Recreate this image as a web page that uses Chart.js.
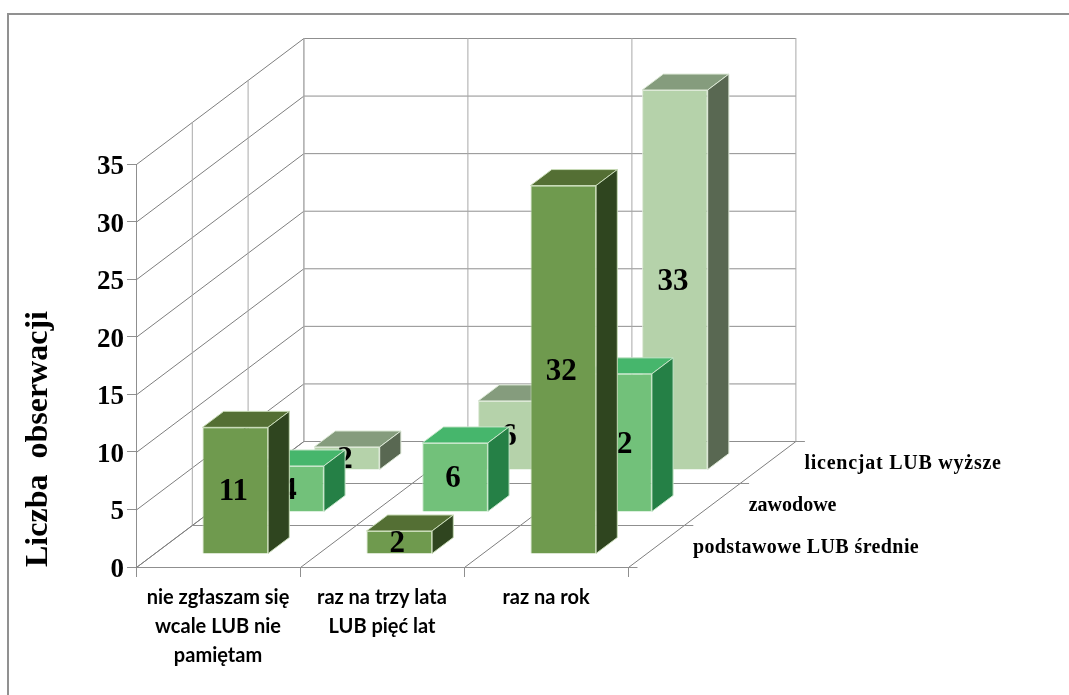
<!DOCTYPE html>
<html lang="pl">
<head>
<meta charset="utf-8">
<title>Liczba obserwacji</title>
<script src="https://cdn.jsdelivr.net/npm/chart.js@4"></script>
<style>
  html, body { margin: 0; padding: 0; background: #fff; overflow: hidden; }
  canvas { display: block; }
</style>
</head>
<body>
<canvas id="chart" width="1069" height="695"></canvas>
<script>
// Chart values
const categories = [
  ['nie zgłaszam się', 'wcale LUB nie', 'pamiętam'],
  ['raz na trzy lata', 'LUB pięć lat'],
  'raz na rok'
];
const seriesNames = ['podstawowe LUB średnie', 'zawodowe', 'licencjat LUB wyższe'];
const podstawowe = [11, 2, 32];
const zawodowe = [4, 6, 12];
const licencjat = [2, 6, 33];

// Face colours per series: front, top, side, edge
const frontColors = ['#6f9a4e', '#72c17a', '#b5d2aa'];
const topColors = ['#546f34', '#46b66c', '#859c7d'];
const sideColors = ['#2f451f', '#258046', '#596852'];
const edgeColors = ['#c9dcb8', '#c7e6ca', '#dde9d7'];
const nameSpacing = ['0.4px', '0px', '0.75px'];

// Oblique projection: one depth slot moves a point right and up by these amounts
const SLOT_DX = 55.8;
const SLOT_DY = 42;
const SLOTS = seriesNames.length;
const BAR_INSET = 0.31;   // distance from slot start to bar front, in slots
const BAR_DEPTH = 0.38;   // bar thickness, in slots
const GRID = '#8f8f8f';
const GRID_SLANT = '#7e7e7e';
const GRID_SOFT = '#a9a9a9';

function line(ctx, x1, y1, x2, y2, color) {
  ctx.strokeStyle = color;
  ctx.lineWidth = 1;
  ctx.beginPath();
  ctx.moveTo(x1, y1);
  ctx.lineTo(x2, y2);
  ctx.stroke();
}

function polygon(ctx, pts, fill, edge) {
  ctx.beginPath();
  pts.forEach((p, i) => (i ? ctx.lineTo(p[0], p[1]) : ctx.moveTo(p[0], p[1])));
  ctx.closePath();
  ctx.fillStyle = fill;
  ctx.fill();
  ctx.strokeStyle = edge;
  ctx.lineWidth = 1;
  ctx.stroke();
}

const box3d = {
  id: 'box3d',
  beforeDraw(chart) {
    // Outer frame, open towards the page edge
    const ctx = chart.ctx;
    ctx.save();
    ctx.strokeStyle = '#919191';
    ctx.lineWidth = 2;
    ctx.beginPath();
    ctx.moveTo(8, chart.height);
    ctx.lineTo(8, 14);
    ctx.lineTo(chart.width, 14);
    ctx.stroke();
    ctx.restore();
  },
  beforeDatasetsDraw(chart) {
    // Walls and floor
    const { ctx, scales: { x, y } } = chart;
    const base = y.getPixelForValue(0);
    const top = y.getPixelForValue(y.max);
    const left = x.left + 0.5;
    const right = x.right + 0.5;
    const backDx = SLOT_DX * SLOTS;
    const backDy = SLOT_DY * SLOTS;
    ctx.save();

    // Horizontal value lines on the left and back walls
    y.ticks.forEach(t => {
      const py = y.getPixelForValue(t.value) + 0.5;
      line(ctx, left, py, left + backDx, py - backDy, GRID_SLANT);
      line(ctx, left + backDx, py - backDy, right + backDx, py - backDy, GRID);
    });

    // Verticals on the left wall, one per depth slot
    for (let i = 1; i <= SLOTS; i++) {
      const dx = SLOT_DX * i, dy = SLOT_DY * i;
      line(ctx, left + dx, base - dy + 0.5, left + dx, top - dy, GRID_SOFT);
    }

    // Category lines across the floor and up the back wall
    for (let c = 0; c <= categories.length; c++) {
      const cx = left + (right - left) * c / categories.length;
      line(ctx, cx, base + 0.5, cx + backDx, base - backDy + 0.5, GRID_SLANT);
      line(ctx, cx + backDx, base - backDy + 0.5, cx + backDx, top - backDy, GRID_SOFT);
    }

    // Depth lines across the floor with their outer ticks
    for (let i = 0; i <= SLOTS; i++) {
      const dx = SLOT_DX * i, dy = SLOT_DY * i;
      const py = base - dy + 0.5;
      line(ctx, left + dx, py, right + dx + 9, py, GRID);
    }

    // Value axis numbers, set a little below the middle of their ticks
    ctx.fillStyle = '#000';
    ctx.font = 'bold 27px "Liberation Serif"';
    ctx.textAlign = 'right';
    ctx.textBaseline = 'middle';
    y.ticks.forEach(t => {
      ctx.fillText(t.label, 124, y.getPixelForValue(t.value) + 3);
    });

    // Series names beside the floor edge
    ctx.font = 'bold 20px "Liberation Serif"';
    ctx.textAlign = 'left';
    seriesNames.forEach((name, i) => {
      const mid = i + 0.5;
      ctx.letterSpacing = nameSpacing[i];
      ctx.fillText(name, right + SLOT_DX * mid + 36.5, base - SLOT_DY * mid + 2);
    });
    ctx.letterSpacing = '0px';
    ctx.restore();
  },
  beforeDatasetDraw(chart, args) {
    // Shift the series into its depth slot and add the top and side faces
    const { ctx } = chart;
    const i = args.index;
    const offset = i + BAR_INSET;
    const bx = SLOT_DX * BAR_DEPTH, by = SLOT_DY * BAR_DEPTH;
    ctx.save();
    ctx.translate(SLOT_DX * offset, -SLOT_DY * offset);
    args.meta.data.forEach(bar => {
      const { x, y, base, width } = bar.getProps(['x', 'y', 'base', 'width'], true);
      const l = x - width / 2, r = x + width / 2;
      polygon(ctx, [[l, y], [r, y], [r + bx, y - by], [l + bx, y - by]], topColors[i], edgeColors[i]);
      polygon(ctx, [[r, y], [r + bx, y - by], [r + bx, base - by], [r, base]], sideColors[i], edgeColors[i]);
    });
  },
  afterDatasetDraw(chart, args) {
    // Value labels sit on the front face and are overlapped by nearer series
    const { ctx } = chart;
    const values = chart.data.datasets[args.index].data;
    ctx.fillStyle = '#000';
    ctx.font = 'bold 31px "Liberation Serif"';
    ctx.textAlign = 'center';
    ctx.textBaseline = 'middle';
    args.meta.data.forEach((bar, k) => {
      const { x, y, base } = bar.getProps(['x', 'y', 'base'], true);
      ctx.fillText(String(values[k]), x - 2, (y + base) / 2 + 2);
    });
    ctx.restore();
  }
};

const seriesValues = [podstawowe, zawodowe, licencjat];

new Chart(document.getElementById('chart'), {
  type: 'bar',
  data: {
    labels: categories,
    datasets: seriesNames.map((name, i) => ({
      label: name,
      data: seriesValues[i],
      backgroundColor: frontColors[i],
      borderColor: edgeColors[i],
      borderWidth: 1,
      clip: false
    }))
  },
  options: {
    responsive: false,
    animation: false,
    events: [],
    layout: { padding: { top: 164, right: 441, left: 0, bottom: 0 } },
    datasets: { bar: { grouped: false, barPercentage: 0.4, categoryPercentage: 1 } },
    plugins: { legend: { display: false }, tooltip: { enabled: false }, title: { display: false } },
    scales: {
      x: {
        offset: true,
        grid: { offset: true, drawOnChartArea: false, drawTicks: true, tickLength: 10, color: GRID },
        border: { color: GRID },
        ticks: {
          autoSkip: false,
          maxRotation: 0,
          color: '#000',
          padding: 6,
          font: { family: 'Lato', weight: 'bold', size: 20, lineHeight: 1.45 }
        },
        afterFit(scale) { scale.height = 128; }
      },
      y: {
        min: 0,
        max: 35,
        grid: { drawOnChartArea: false, drawTicks: true, tickLength: 9, color: GRID },
        border: { color: GRID },
        ticks: { stepSize: 5, display: false },
        title: {
          display: true,
          text: 'Liczba  obserwacji',
          align: 'start',
          color: '#000',
          padding: { top: 20, bottom: 0 },
          font: { family: 'Liberation Serif', weight: 'bold', size: 32 }
        },
        afterFit(scale) { scale.width = 136; }
      }
    }
  },
  plugins: [box3d]
});
</script>
</body>
</html>
